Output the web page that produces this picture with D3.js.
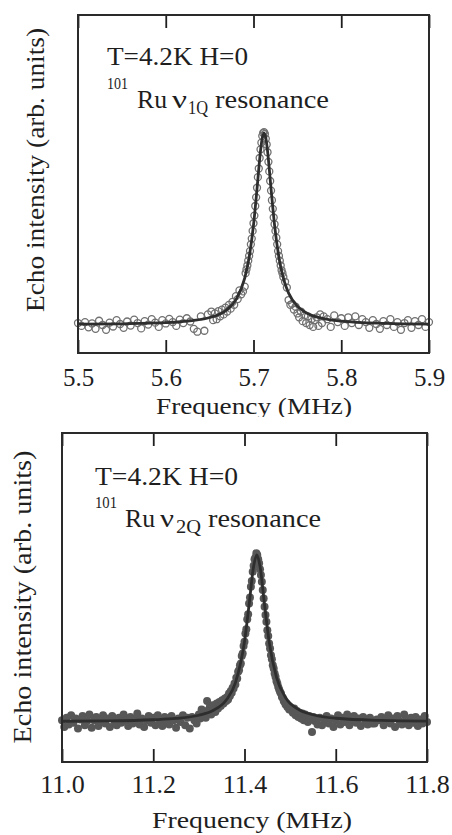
<!DOCTYPE html>
<html><head><meta charset="utf-8">
<script src="https://cdn.jsdelivr.net/npm/d3@7"></script>
<style>body{margin:0;background:#fff}svg{display:block}svg text{font-family:"Liberation Serif",serif}</style>
</head><body><svg id="c" width="452" height="835"></svg>
<script>
// ---------- DATA (intensity in arbitrary units, baseline = 0, peak ~ 1000) ----------
const topFreq = [
5.500,5.504,5.508,5.512,5.516,5.520,5.524,5.528,5.532,5.536,5.540,5.544,5.548,5.552,5.556,5.560,5.564,5.568,5.572,5.576,
5.580,5.584,5.588,5.592,5.596,5.600,5.604,5.608,5.612,5.616,5.620,5.624,5.628,5.632,5.636,5.640,5.644,5.648,
5.652,5.654,5.656,5.658,5.660,5.662,5.664,5.666,5.668,5.670,5.672,5.674,5.676,5.678,5.680,5.682,5.684,5.686,5.688,5.690,
5.691,5.692,5.693,5.694,5.695,5.696,5.697,5.698,5.699,5.700,5.701,5.702,5.703,5.704,5.705,5.706,5.707,5.708,5.709,5.710,
5.711,5.712,5.713,5.714,5.715,5.716,5.717,5.718,5.719,5.720,5.721,5.722,5.723,5.724,5.725,5.726,5.727,5.728,5.729,5.730,
5.731,5.732,5.733,5.734,
5.736,5.738,5.740,5.742,5.744,5.746,5.748,5.750,5.752,5.754,5.756,5.758,5.760,5.762,5.764,5.766,5.768,5.770,5.772,5.774,5.776,5.778,5.780,
5.784,5.788,5.792,5.796,5.800,5.804,5.808,5.812,5.816,5.820,5.824,5.828,5.832,5.836,5.840,5.844,5.848,5.852,5.856,5.860,
5.864,5.868,5.872,5.876,5.880,5.884,5.888,5.892,5.896,5.900];
const topEcho = [
10,-5,15,-12,8,-20,22,0,-25,12,-8,25,5,-15,18,-3,28,10,-18,20,
2,30,12,-10,25,8,32,15,-5,28,10,35,18,-20,-35,45,-30,55,
70,25,60,30,72,45,80,55,90,70,105,85,120,105,150,135,180,160,175,200,
270,290,310,335,360,385,420,450,490,530,570,620,665,715,770,815,870,915,950,985,
1000,1005,995,970,940,900,850,800,750,700,650,605,560,525,490,455,420,385,360,335,
310,285,270,250,
225,195,130,105,110,80,95,60,40,70,20,50,10,45,0,30,-10,25,40,-5,55,10,45,
30,-10,50,15,35,-5,40,10,45,0,30,15,-15,25,5,-20,20,0,30,-10,
15,-25,10,25,-15,20,0,30,-10,15];
const topFitFreq = [5.50,5.55,5.60,5.63,5.65,5.67,5.68,5.69,5.695,5.70,5.704,5.708,5.710,5.712,5.714,5.716,5.72,5.724,5.73,5.735,5.74,5.75,5.76,5.78,5.80,5.85,5.90];
const topFitEcho = [4,6,12,23,39,81,132,244,351,520,709,907,975,1000,975,907,709,520,325,228,166,98,64,33,20,8,4];

const botFreq = [
11.000,11.005,11.010,11.015,11.020,11.025,11.030,11.035,11.040,11.045,11.050,11.055,11.060,11.065,11.070,11.075,11.080,11.085,11.090,11.095,
11.100,11.105,11.110,11.115,11.120,11.125,11.130,11.135,11.140,11.145,11.150,11.155,11.160,11.165,11.170,11.175,11.180,11.185,11.190,11.195,
11.200,11.205,11.210,11.215,11.220,11.225,11.230,11.235,11.240,11.245,11.250,11.255,11.260,11.265,11.270,11.275,11.280,11.285,11.290,11.295,11.300,
11.303,11.306,11.309,11.312,11.315,11.318,11.321,11.324,11.327,11.330,11.333,11.336,11.339,11.342,11.345,11.348,11.351,11.354,11.357,11.360,
11.362,11.364,11.366,11.368,11.370,11.372,11.374,11.376,11.378,11.380,11.382,11.384,11.386,11.388,11.390,11.392,11.394,11.396,11.398,11.400,
11.402,11.404,11.406,11.408,11.410,11.412,11.414,11.416,11.418,11.420,11.422,11.424,11.426,11.428,11.430,11.432,11.434,11.436,11.438,11.440,
11.442,11.444,11.446,11.448,11.450,11.452,11.454,11.456,11.458,11.460,11.462,11.464,11.466,11.468,11.470,11.472,11.474,11.476,11.478,11.480,
11.482,11.484,11.486,11.488,11.490,11.492,11.494,11.496,11.498,11.500,
11.503,11.506,11.509,11.512,11.515,11.518,11.521,11.524,11.527,11.530,11.533,11.536,11.539,11.542,11.545,11.548,11.551,11.554,11.557,11.560,
11.565,11.570,11.575,11.580,11.585,11.590,11.595,11.600,11.605,11.610,11.615,11.620,11.625,11.630,11.635,11.640,11.645,11.650,11.655,11.660,
11.665,11.670,11.675,11.680,11.685,11.690,11.695,11.700,11.705,11.710,11.715,11.720,11.725,11.730,11.735,11.740,11.745,11.750,11.755,11.760,
11.765,11.770,11.775,11.780,11.785,11.790,11.795,11.800];
const botEcho = [
10,-30,25,-15,40,-5,20,-40,15,35,-20,5,45,-35,10,30,-25,0,40,-10,
20,-30,35,5,-20,25,-5,45,10,-25,30,-10,15,50,-15,20,-30,10,35,-5,
25,-20,40,0,-25,30,5,-15,35,10,-35,20,0,40,-20,25,-40,30,10,-10,45,
20,75,30,65,25,125,55,90,45,100,70,60,110,80,120,95,130,110,140,125,
150,135,170,155,185,175,205,200,230,225,265,260,300,310,340,350,395,410,455,480,
530,555,615,645,710,745,810,845,900,935,975,985,1010,1000,975,950,915,880,840,790,
740,690,640,600,550,515,470,440,400,375,340,320,290,270,245,230,210,195,180,170,
150,145,125,120,105,110,90,95,75,85,
70,55,80,40,65,30,55,20,50,10,45,25,0,35,15,-60,30,5,20,-15,
25,-20,15,35,-10,20,-30,10,40,-15,25,0,45,-20,15,35,-5,20,-25,30,
5,-15,25,-10,-10,15,10,30,-20,15,40,-10,20,-30,35,5,-15,45,10,-20,
25,-5,30,-25,15,-10,35,0];
const botFitFreq = [11.00,11.10,11.20,11.25,11.30,11.33,11.36,11.38,11.40,11.41,11.42,11.427,11.434,11.444,11.454,11.47,11.49,11.52,11.55,11.60,11.70,11.80];
const botFitEcho = [4,6,13,21,40,67,131,234,481,701,932,1000,932,701,481,268,146,72,43,22,9,5];

const topTicks = [5.5,5.6,5.7,5.8,5.9];
const botTicks = [11.0,11.2,11.4,11.6,11.8];
const xTitle = "Frequency (MHz)";
const yTitle = "Echo intensity (arb. units)";
const condText = "T=4.2K H=0";
const isoText = "101";
const nucText = "Ru";
const nuText = "\u03bd";
const topSub = "1Q";
const botSub = "2Q";
const resText = "resonance";

// ---------- DRAW ----------
const INK = "#1e1e1e";
const svg = d3.select("#c");

function panel(p) {
  const g = svg.append("g");
  const x = d3.scaleLinear().domain(p.xDomain).range([p.left, p.right]);
  const y = d3.scaleLinear().domain(p.yDomain).range([p.bottom, p.top]);
  const pts = d3.zip(p.freq, p.echo);
  const m = g.append("g").selectAll("circle").data(pts).join("circle")
    .attr("cx", d => x(d[0])).attr("cy", d => y(d[1])).attr("r", p.r);
  if (p.open) m.attr("fill", "none").attr("stroke", "#707070").attr("stroke-width", 1.3);
  else m.attr("fill", "#575757");
  g.append("path").datum(d3.zip(p.fitFreq, p.fitEcho))
    .attr("fill", "none").attr("stroke", "#2e2e2e").attr("stroke-width", 2.8)
    .attr("d", d3.line().x(d => x(d[0])).y(d => y(d[1])).curve(d3.curveMonotoneX));
  // inward ticks
  g.append("g").attr("transform", `translate(0,${p.bottom})`).attr("color", INK)
    .call(d3.axisBottom(x).tickValues(p.ticks).tickSize(-13).tickFormat(""))
    .call(a => { a.select(".domain").remove(); a.selectAll("line").attr("stroke-width", 1.8); });
  g.append("g").attr("transform", `translate(0,${p.top})`).attr("color", INK)
    .call(d3.axisTop(x).tickValues(p.ticks).tickSize(-13).tickFormat(""))
    .call(a => { a.select(".domain").remove(); a.selectAll("line").attr("stroke-width", 1.8); });
  // tick labels
  g.append("g").attr("transform", `translate(0,${p.bottom})`)
    .call(d3.axisBottom(x).tickValues(p.ticks).tickSize(0).tickFormat(d3.format(".1f")))
    .call(a => {
      a.select(".domain").remove();
      a.selectAll("text").attr("y", p.tickBase - p.bottom).attr("dy", null)
        .style("font-size", p.tickSize + "px").attr("fill", INK);
    });
  // frame
  g.append("rect").attr("x", p.left).attr("y", p.top)
    .attr("width", p.right - p.left).attr("height", p.bottom - p.top)
    .attr("fill", "none").attr("stroke", "#2a2a2a").attr("stroke-width", 2);
  // titles
  const t = (s, xx, yy, size, len) => {
    const e = g.append("text").attr("x", xx).attr("y", yy).style("font-size", size + "px")
      .attr("fill", INK).text(s);
    if (len) e.attr("textLength", len).attr("lengthAdjust", "spacingAndGlyphs");
    return e;
  };
  t(xTitle, p.xtX, p.xtY, 24, p.xtLen).attr("text-anchor", "middle");
  t(yTitle, 0, 0, 25, p.ytLen).attr("text-anchor", "middle")
    .attr("transform", `translate(${p.ytX},${p.ytY}) rotate(-90)`);
  // annotation
  const a = p.ann;
  t(condText, a.x, a.y1, 25, a.condLen);
  t(isoText, a.x, a.ySup, 16, a.supLen);
  t(nucText, a.ruX, a.y2, 25, a.ruLen);
  t(nuText, a.nuX, a.y2, 25, a.nuLen);
  t(p.sub, a.subX, a.ySub, 18, a.subLen);
  t(resText, a.resX, a.y2, 25, a.resLen);
}

panel({
  freq: topFreq, echo: topEcho, fitFreq: topFitFreq, fitEcho: topFitEcho, ticks: topTicks,
  xDomain: [5.5, 5.9], yDomain: [-146, 1615],
  left: 78, right: 429, top: 15, bottom: 353, tickBase: 386, tickSize: 25,
  r: 3.5, open: true, sub: topSub,
  xtX: 254, xtY: 414, xtLen: 196,
  ytX: 44, ytY: 170, ytLen: 284,
  ann: {x: 107, y1: 65, condLen: 141, ySup: 89, supLen: 21, y2: 108, ySub: 114,
        ruX: 137, ruLen: 30, nuX: 172, nuLen: 15, subX: 188, subLen: 20, resX: 215, resLen: 114}
});
// the lower panel overlaps the descenders of the upper title
svg.append("rect").attr("x", 0).attr("y", 417).attr("width", 452).attr("height", 2.5).attr("fill", "#fff");
panel({
  freq: botFreq, echo: botEcho, fitFreq: botFitFreq, fitEcho: botFitEcho, ticks: botTicks,
  xDomain: [11.0, 11.8], yDomain: [-240, 1731],
  left: 62, right: 427, top: 433, bottom: 762, tickBase: 793, tickSize: 26,
  r: 4, open: false, sub: botSub,
  xtX: 252, xtY: 828, xtLen: 200,
  ytX: 31, ytY: 597, ytLen: 293,
  ann: {x: 95, y1: 485, condLen: 143, ySup: 508, supLen: 22, y2: 527, ySub: 533,
        ruX: 125, ruLen: 30, nuX: 160, nuLen: 14, subX: 176, subLen: 25, resX: 208, resLen: 113}
});
</script></body></html>
